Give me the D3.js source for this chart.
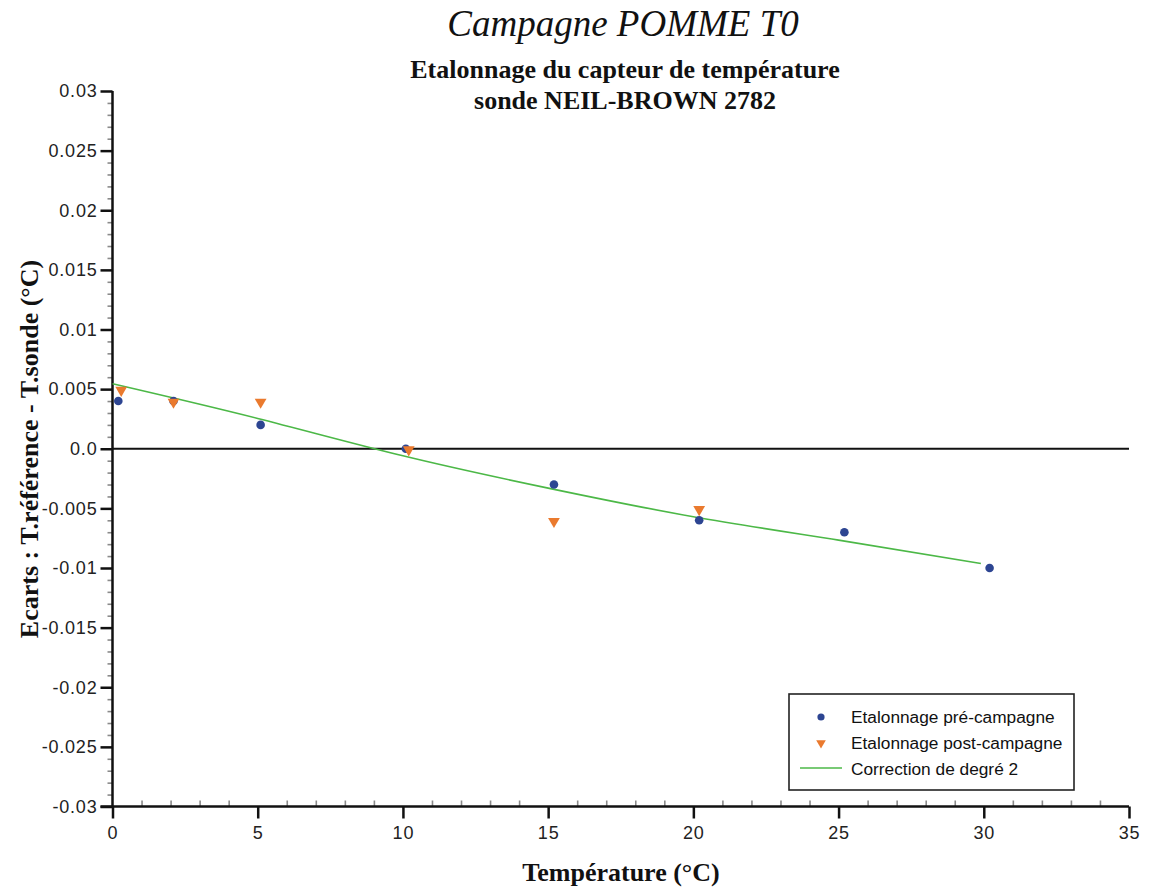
<!DOCTYPE html>
<html>
<head>
<meta charset="utf-8">
<script src="https://cdn.jsdelivr.net/npm/d3@7"></script>
<style>
  html, body { margin: 0; padding: 0; background: #fff; }
  svg { display: block; }
</style>
</head>
<body>
<svg id="chart" width="1150" height="889"></svg>
<script>
// ---- Data ----
const preTemp = [0.2, 2.1, 5.1, 10.1, 15.2, 20.2, 25.2, 30.2];
const preEcart = [0.004, 0.004, 0.002, 0.0, -0.003, -0.006, -0.007, -0.010];

const postTemp = [0.3, 2.1, 5.1, 10.2, 15.2, 20.2];
const postEcart = [0.005, 0.004, 0.004, 0.0, -0.006, -0.005];

const fitTemp = [0, 5, 10, 15, 20, 25, 29.9];
const fitEcart = [0.00545, 0.00254, -0.00059, -0.0033, -0.0057, -0.00766, -0.00962];

const yTickValues = [0.03, 0.025, 0.02, 0.015, 0.01, 0.005, 0, -0.005, -0.01, -0.015, -0.02, -0.025, -0.03];
const yTickLabels = ["0.03", "0.025", "0.02", "0.015", "0.01", "0.005", "0.0", "-0.005", "-0.01", "-0.015", "-0.02", "-0.025", "-0.03"];
const xTickValues = [0, 5, 10, 15, 20, 25, 30, 35];
const xTickLabels = ["0", "5", "10", "15", "20", "25", "30", "35"];

const legendLabels = ["Etalonnage pré-campagne", "Etalonnage post-campagne", "Correction de degré 2"];

const title = "Campagne POMME T0";
const subtitle1 = "Etalonnage du capteur de température";
const subtitle2 = "sonde NEIL-BROWN 2782";
const xTitle = "Température (°C)";
const yTitle = "Ecarts : T.référence - T.sonde (°C)";

const colBlue = "#2d4592";
const colOrange = "#ea7a2e";
const colGreen = "#4cb847";

// ---- Layout ----
const svg = d3.select("#chart");
const x = d3.scaleLinear().domain([0, 35]).range([112.5, 1129]);
const y = d3.scaleLinear().domain([-0.03, 0.03]).range([806.5, 91]);

const sans = "'Liberation Sans', Arial, Helvetica, sans-serif";
const serif = "'Liberation Serif', 'Times New Roman', Times, serif";

// Titles
svg.append("text").attr("x", 623).attr("y", 36).attr("text-anchor", "middle")
  .attr("font-family", serif).attr("font-style", "italic").attr("font-size", 37)
  .attr("fill", "#111").text(title);
svg.append("text").attr("x", 625).attr("y", 78).attr("text-anchor", "middle")
  .attr("font-family", serif).attr("font-weight", "bold").attr("font-size", 26)
  .attr("fill", "#111").text(subtitle1);
svg.append("text").attr("x", 625).attr("y", 109).attr("text-anchor", "middle")
  .attr("font-family", serif).attr("font-weight", "bold").attr("font-size", 26)
  .attr("fill", "#111").text(subtitle2);

// Axis titles
svg.append("text").attr("x", 621).attr("y", 881).attr("text-anchor", "middle")
  .attr("font-family", serif).attr("font-weight", "bold").attr("font-size", 26)
  .attr("fill", "#111").text(xTitle);
svg.append("text").attr("transform", "translate(29,449) rotate(-90)")
  .attr("text-anchor", "middle").attr("dy", "0.35em")
  .attr("font-family", serif).attr("font-weight", "bold").attr("font-size", 26)
  .attr("fill", "#111").text(yTitle);

// Minor ticks
const yMinor = d3.range(-30, 31).filter(v => v % 5 !== 0).map(v => v / 1000);
const xMinor = d3.range(0, 36).filter(v => v % 5 !== 0);

const gyMinor = svg.append("g").attr("transform", `translate(${x(0)},0)`)
  .call(d3.axisLeft(y).tickValues(yMinor).tickSize(5).tickFormat(""));
gyMinor.select(".domain").remove();
gyMinor.selectAll(".tick line").attr("stroke", "#8a8a8a").attr("stroke-width", 1.6);

const gxMinor = svg.append("g").attr("transform", `translate(0,${y(-0.03)})`)
  .call(d3.axisBottom(x).tickValues(xMinor).tickSizeInner(-6).tickSizeOuter(0).tickFormat(""));
gxMinor.select(".domain").remove();
gxMinor.selectAll(".tick line").attr("stroke", "#8a8a8a").attr("stroke-width", 1.6);

// Major axes
const gy = svg.append("g").attr("transform", `translate(${x(0)},0)`)
  .call(d3.axisLeft(y).tickValues(yTickValues).tickSize(12).tickPadding(3)
    .tickFormat((d, i) => yTickLabels[i]));
gy.select(".domain").attr("stroke", "#111").attr("stroke-width", 2.5)
  .attr("d", `M0,${y(0.03)}V${y(-0.03)}`);
gy.selectAll(".tick line").attr("stroke", "#111").attr("stroke-width", 2.5);
gy.selectAll(".tick text").attr("font-family", sans).attr("font-size", 18)
  .attr("letter-spacing", "0.8px").attr("fill", "#222");

const gx = svg.append("g").attr("transform", `translate(0,${y(-0.03)})`)
  .call(d3.axisBottom(x).tickValues(xTickValues).tickSize(12).tickPadding(8)
    .tickFormat((d, i) => xTickLabels[i]));
gx.select(".domain").attr("stroke", "#111").attr("stroke-width", 2.5)
  .attr("d", `M${x(0) - 12},0H${x(35)}`);
gx.selectAll(".tick line").attr("stroke", "#111").attr("stroke-width", 2.5);
gx.selectAll(".tick text").attr("font-family", sans).attr("font-size", 18)
  .attr("letter-spacing", "0.8px").attr("fill", "#222");

// Zero line
svg.append("line").attr("x1", x(0)).attr("x2", x(35)).attr("y1", y(0)).attr("y2", y(0))
  .attr("stroke", "#111").attr("stroke-width", 2);

// Fit curve
const fitData = fitTemp.map((t, i) => [t, fitEcart[i]]);
svg.append("path").datum(fitData)
  .attr("d", d3.line().x(d => x(d[0])).y(d => y(d[1])).curve(d3.curveNatural))
  .attr("fill", "none").attr("stroke", colGreen).attr("stroke-width", 1.6);

// Pre-campaign points
const preData = preTemp.map((t, i) => [t, preEcart[i]]);
svg.append("g").selectAll("circle").data(preData).join("circle")
  .attr("cx", d => x(d[0])).attr("cy", d => y(d[1])).attr("r", 4.3)
  .attr("fill", colBlue);

// Post-campaign points
const tri = d3.symbol().type(d3.symbolTriangle).size(60);
const postData = postTemp.map((t, i) => [t, postEcart[i]]);
svg.append("g").selectAll("path").data(postData).join("path")
  .attr("d", tri)
  .attr("transform", d => `translate(${x(d[0])},${y(d[1]) + 1}) rotate(180)`)
  .attr("fill", colOrange);

// Legend
const lg = svg.append("g");
lg.append("rect").attr("x", 789).attr("y", 694).attr("width", 285).attr("height", 96)
  .attr("fill", "#fff").attr("stroke", "#222").attr("stroke-width", 1.6);
lg.append("circle").attr("cx", 821).attr("cy", 717).attr("r", 3.6).attr("fill", colBlue);
lg.append("path").attr("d", d3.symbol().type(d3.symbolTriangle).size(40))
  .attr("transform", "translate(821,743) rotate(180)").attr("fill", colOrange);
lg.append("line").attr("x1", 800).attr("x2", 842).attr("y1", 768).attr("y2", 768)
  .attr("stroke", colGreen).attr("stroke-width", 1.6);
legendLabels.forEach((t, i) => {
  lg.append("text").attr("x", 851).attr("y", 723 + i * 26)
    .attr("font-family", sans).attr("font-size", 17.3).attr("fill", "#111").text(t);
});
</script>
</body>
</html>
